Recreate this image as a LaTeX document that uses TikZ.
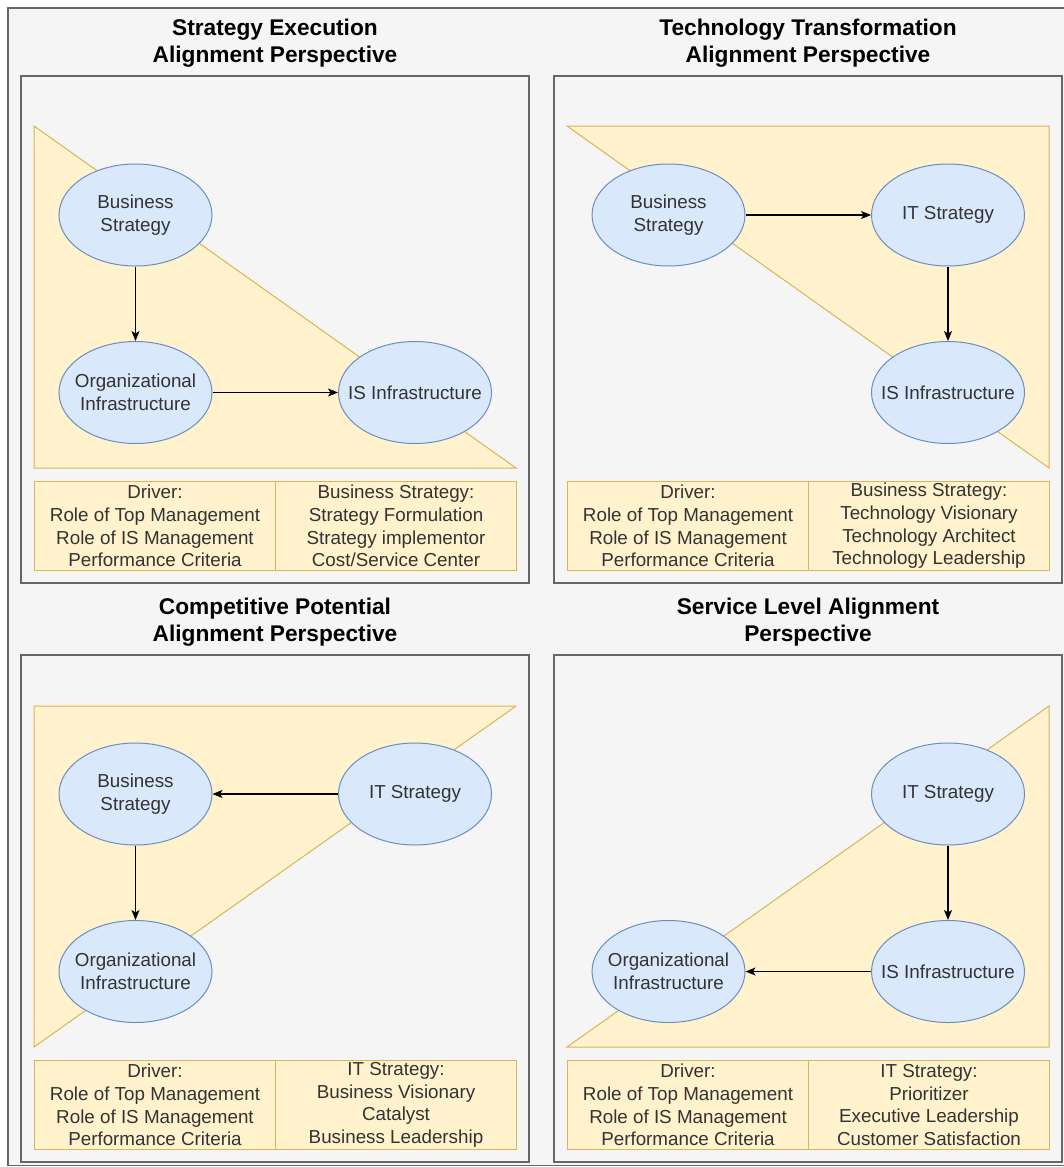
\documentclass[tikz,border=0pt]{standalone}
\usepackage{fontspec}
\setmainfont{Liberation Sans}
\usetikzlibrary{arrows.meta,shapes.geometric}
\definecolor{paper}{HTML}{F5F5F5}
\definecolor{frameline}{HTML}{666666}
\definecolor{zonefill}{HTML}{FFF2CC}
\definecolor{zoneline}{HTML}{D6B656}
\definecolor{goalfill}{HTML}{DAE8FC}
\definecolor{goalline}{HTML}{6C8EBF}
\definecolor{txt}{HTML}{333333}
\newcommand{\bodysize}{\fontsize{18.8}{22.7}\selectfont}
\tikzset{
  frame/.style={draw=frameline, fill=paper, line width=1.3pt},
  zone/.style={draw=zoneline, fill=zonefill, line width=1pt},
  goal/.style={ellipse, draw=goalline, fill=goalfill, line width=1pt,
    minimum width=153pt, minimum height=102pt, inner xsep=-14pt, inner ysep=0pt,
    align=center, font=\bodysize, text=txt},
  cell/.style={draw=zoneline, fill=zonefill, line width=1pt,
    minimum width=241pt, minimum height=89pt, inner sep=0pt,
    anchor=north west, align=center, font=\bodysize, text=txt},
  heading/.style={align=center, font=\bfseries\fontsize{22.7}{27}\selectfont},
  link/.style={-{Stealth[length=10pt,width=8pt,inset=2.5pt]}, line width=1.3pt}
}
\begin{document}
\begin{tikzpicture}[x=1pt,y=-1pt]
\useasboundingbox (0,0) rectangle (1064,1167);
% outer sheet
\draw[frame] (8,8) rectangle (1080,1165.5);

% ---------- Strategy Execution ----------
\node[heading] (t1) at (275,43.5) {Strategy Execution\\Alignment Perspective};
\draw[frame] (21,76) rectangle (529,583);
\draw[zone] (34,126) -- (516,468) -- (34,468) -- cycle;
\node[cell] (a-drv) at (34,481) {Driver:\\Role of Top Management\\Role of IS Management\\Performance Criteria};
\node[cell] (a-rol) at (275,481) {Business Strategy:\\Strategy Formulation\\Strategy implementor\\Cost/Service Center};
\node[goal] (a-bs) at (135.5,215) {Business\\Strategy};
\node[goal] (a-oi) at (135.5,392.5) {Organizational\\Infrastructure};
\node[goal] (a-is) at (415,392.5) {IS Infrastructure};
\draw[link] (a-bs) -- (a-oi);
\draw[link] (a-oi) -- (a-is);

% ---------- Technology Transformation ----------
\node[heading] (t2) at (808,43.5) {Technology Transformation\\Alignment Perspective};
\draw[frame] (554,76) rectangle (1062,583);
\draw[zone] (567,126) -- (1049,126) -- (1049,468) -- cycle;
\node[cell] (b-drv) at (567,481) {Driver:\\Role of Top Management\\Role of IS Management\\Performance Criteria};
\node[cell] (b-rol) at (808,481) {Business Strategy:\\Technology Visionary\\Technology Architect\\Technology Leadership};
\node[goal] (b-bs) at (668.5,215) {Business\\Strategy};
\node[goal] (b-it) at (948,215) {IT Strategy};
\node[goal] (b-is) at (948,392.5) {IS Infrastructure};
\draw[link] (b-bs) -- (b-it);
\draw[link] (b-it) -- (b-is);

% ---------- Competitive Potential ----------
\node[heading] (t3) at (275,622.5) {Competitive Potential\\Alignment Perspective};
\draw[frame] (21,655) rectangle (529,1162);
\draw[zone] (34,706) -- (516,706) -- (34,1047) -- cycle;
\node[cell] (c-drv) at (34,1060) {Driver:\\Role of Top Management\\Role of IS Management\\Performance Criteria};
\node[cell] (c-rol) at (275,1060) {IT Strategy:\\Business Visionary\\Catalyst\\Business Leadership};
\node[goal] (c-bs) at (135.5,794) {Business\\Strategy};
\node[goal] (c-it) at (415,794) {IT Strategy};
\node[goal] (c-oi) at (135.5,971.5) {Organizational\\Infrastructure};
\draw[link] (c-it) -- (c-bs);
\draw[link] (c-bs) -- (c-oi);

% ---------- Service Level ----------
\node[heading] (t4) at (808,622.5) {Service Level Alignment\\Perspective};
\draw[frame] (554,655) rectangle (1062,1162);
\draw[zone] (1049,706) -- (1049,1047) -- (567,1047) -- cycle;
\node[cell] (d-drv) at (567,1060) {Driver:\\Role of Top Management\\Role of IS Management\\Performance Criteria};
\node[cell] (d-rol) at (808,1060) {IT Strategy:\\Prioritizer\\Executive Leadership\\Customer Satisfaction};
\node[goal] (d-it) at (948,794) {IT Strategy};
\node[goal] (d-is) at (948,971.5) {IS Infrastructure};
\node[goal] (d-oi) at (668.5,971.5) {Organizational\\Infrastructure};
\draw[link] (d-it) -- (d-is);
\draw[link] (d-is) -- (d-oi);
\end{tikzpicture}
\end{document}
